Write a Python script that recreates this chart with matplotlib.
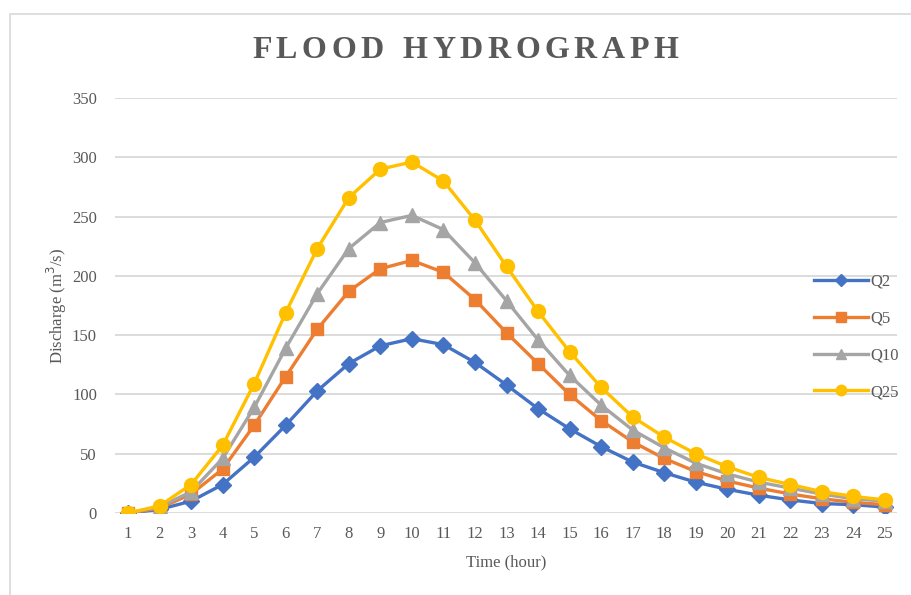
import matplotlib
matplotlib.use("Agg")
import matplotlib.pyplot as plt
from matplotlib.patches import Rectangle

# hydrograph ordinates
hours = list(range(1, 26))
q2 = [0, 3, 10, 24, 47, 74, 103, 126, 141, 147, 142, 127, 108, 88, 71,
      56, 43, 34, 26, 20, 15, 11, 8, 7, 5]
q5 = [0, 4, 16, 37, 74, 115, 155, 187, 206, 213, 203, 180, 152, 126, 100,
      78, 60, 46, 35, 27, 21, 16, 12, 9, 7]
q10 = [0, 5, 18, 46, 89, 139, 185, 223, 245, 251, 239, 211, 179, 146, 116,
       91, 70, 55, 42, 33, 26, 21, 16, 12, 10]
q25 = [0, 6, 24, 57, 109, 169, 223, 266, 290, 296, 280, 247, 208, 170, 136,
       106, 81, 64, 50, 39, 30, 24, 18, 14, 11]
y_ticks = [0, 50, 100, 150, 200, 250, 300, 350]

series = [
    ("Q2", q2, "#4472C4", "D", 8),
    ("Q5", q5, "#ED7D31", "s", 9),
    ("Q10", q10, "#A5A5A5", "^", 9.5),
    ("Q25", q25, "#FFC000", "o", 10),
]

plt.rcParams['font.family'] = ['Liberation Serif', 'DejaVu Serif']
text_col = "#595959"
grid_col = "#D9D9D9"

fig = plt.figure(figsize=(9.11, 5.95), dpi=100)
W, H = 911, 595

# chart border
fig.patches.append(Rectangle((10 / W, -0.05), 1.0, 1 - 14 / H + 0.05,
                             transform=fig.transFigure, fill=False,
                             edgecolor=grid_col, linewidth=1.2))

ax = fig.add_axes([115 / W, 1 - 513 / H, (897 - 115) / W, (513 - 98) / H])

for name, vals, col, mk, ms in series:
    ax.plot(hours, vals, color=col, linewidth=2.4, marker=mk, markersize=ms,
            markerfacecolor=col, markeredgecolor=col, label=name, zorder=3)

ax.set_ylim(0, 350)
ax.set_xlim(1 - 13 / 31.54, 25 + 12 / 31.54)
ax.set_yticks(y_ticks)
ax.set_xticks(hours)
ax.grid(axis="y", color=grid_col, linewidth=1.3)
ax.set_axisbelow(True)
for s in ax.spines.values():
    s.set_visible(False)
ax.tick_params(axis="both", length=0, labelsize=12, colors=text_col)
ax.tick_params(axis="y", pad=13)
ax.tick_params(axis="x", pad=9)

ax.set_xlabel("Time (hour)", fontsize=12, color=text_col, labelpad=9)
ax.set_ylabel("Discharge (m$^3$/s)", fontsize=12, color=text_col, labelpad=2)

# title with wide letter spacing, placed one glyph at a time
title = "FLOOD HYDROGRAPH"
t_left, t_right, t_y = 252, 678, 50
renderer = fig.canvas.get_renderer()
glyphs = []
for ch in title:
    t = fig.text(0, 1 - t_y / H, ch, ha="left", va="center", fontsize=23,
                 fontweight="bold", color=text_col)
    glyphs.append((t, t.get_window_extent(renderer).width if ch != " " else 0))
space_w = 10
total = sum(w for _, w in glyphs) + space_w * title.count(" ")
gap = (t_right - t_left - total) / (len(title) - 1)
x = t_left
for (t, w), ch in zip(glyphs, title):
    if ch == " ":
        x += space_w + gap
        t.set_visible(False)
        continue
    t.set_x(x / W)
    x += w + gap

leg = ax.legend(loc="center left", bbox_to_anchor=(0.875, 0.424), frameon=False,
                fontsize=12, handlelength=3.2, handletextpad=0.15,
                labelspacing=1.25, labelcolor=text_col, markerscale=0.75)

fig.savefig("out.png", dpi=100)
